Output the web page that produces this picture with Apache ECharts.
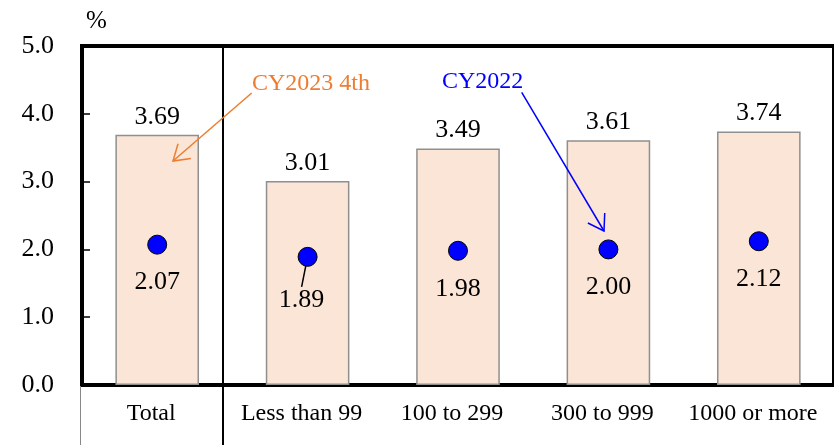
<!DOCTYPE html>
<html>
<head>
<meta charset="utf-8">
<script src="https://cdn.jsdelivr.net/npm/echarts@6/dist/echarts.min.js"></script>
<style>html,body{margin:0;padding:0;background:#fff}#c{width:834px;height:445px}</style>
</head>
<body>
<div id="c"></div>
<script>
// ---- data ----
const categories = ['Total', 'Less than 99', '100 to 299', '300 to 999', '1000 or more'];
const cy2023 = [3.69, 3.01, 3.49, 3.61, 3.74];
const cy2022 = [2.07, 1.89, 1.98, 2.00, 2.12];
const yTicks = [0, 1, 2, 3, 4, 5];
const seriesNames = ['CY2023 4th', 'CY2022'];

const FONT = '"Liberation Serif", "Times New Roman", serif';
const chart = echarts.init(document.getElementById('c'));

function arrow(x1, y1, x2, y2, color) {
  const ang = Math.atan2(y1 - y2, x1 - x2);
  const L = 18, a = 33 * Math.PI / 180;
  const p1 = [x2 + L * Math.cos(ang + a), y2 + L * Math.sin(ang + a)];
  const p2 = [x2 + L * Math.cos(ang - a), y2 + L * Math.sin(ang - a)];
  return [
    { type: 'line', shape: { x1, y1, x2, y2 }, style: { stroke: color, lineWidth: 1.5 }, z: 50 },
    { type: 'polyline', shape: { points: [p1, [x2, y2], p2] }, style: { stroke: color, lineWidth: 1.5, fill: null }, z: 50 }
  ];
}

// the one dot whose label is pulled aside with a short leader line
const movedLabelIndex = 1;
const dotData = cy2022.map((v, i) => ({ value: v, labelLine: { show: i === movedLabelIndex } }));

const option = {
  animation: false,
  backgroundColor: '#fff',
  grid: { left: 82, right: -3, top: 46, bottom: 60, show: true, borderColor: '#000', borderWidth: 4, containLabel: false },
  xAxis: {
    type: 'category',
    data: categories,
    axisLine: { show: true, lineStyle: { color: '#000', width: 4 } },
    axisTick: { show: false },
    axisLabel: { interval: 0, color: '#000', fontFamily: FONT, fontSize: 24, margin: 17, padding: [0, 12, 0, 0] },
    splitLine: { show: false }
  },
  yAxis: {
    type: 'value',
    min: yTicks[0], max: yTicks[yTicks.length - 1], interval: 1,
    name: '%',
    nameLocation: 'end',
    nameGap: 12,
    nameTextStyle: { color: '#000', fontFamily: FONT, fontSize: 25, align: 'left', padding: [0, 0, 0, 4] },
    axisLine: { show: true, lineStyle: { color: '#000', width: 4 } },
    axisTick: { show: true, inside: true, length: 8, lineStyle: { color: '#000', width: 1.5 } },
    axisLabel: { color: '#000', fontFamily: FONT, fontSize: 26, margin: 28, formatter: v => v.toFixed(1) },
    splitLine: { show: false }
  },
  series: [
    {
      name: seriesNames[0],
      type: 'bar',
      data: cy2023,
      barWidth: '55.6%',
      itemStyle: { color: '#FBE5D6', borderColor: '#8f8f8f', borderWidth: 1.5 },
      label: { show: true, position: 'top', distance: 5, color: '#000', fontFamily: FONT, fontSize: 26, formatter: p => p.value.toFixed(2) },
      z: 2
    },
    {
      name: seriesNames[1],
      type: 'scatter',
      data: dotData,
      symbol: 'circle',
      symbolSize: 19,
      itemStyle: { color: '#0000FF', borderColor: '#000', borderWidth: 1, opacity: 1 },
      label: { show: true, position: 'bottom', distance: 15, color: '#000', fontFamily: FONT, fontSize: 26, formatter: p => p.value.toFixed(2) },
      labelLayout: function (params) {
        if (params.dataIndex === movedLabelIndex) return { dx: -6, dy: 5 };
        return {};
      },
      labelLine: { show: false, lineStyle: { color: '#000', width: 1.5 } },
      z: 5
    }
  ],
  graphic: [
    { type: 'line', shape: { x1: 223, y1: 44, x2: 223, y2: 445 }, style: { stroke: '#000', lineWidth: 2 }, z: 40 },
    { type: 'line', shape: { x1: 80.5, y1: 386, x2: 80.5, y2: 445 }, style: { stroke: '#888', lineWidth: 1 }, z: 40 },
    { type: 'text', left: 252, top: 72, style: { text: seriesNames[0], fill: '#ED7D31', font: '24px ' + FONT }, z: 50 },
    { type: 'text', left: 442, top: 70, style: { text: seriesNames[1], fill: '#0000FF', font: '24px ' + FONT }, z: 50 },
    ...arrow(251.7, 93, 173, 161, '#ED7D31'),
    ...arrow(521.7, 92.3, 604, 231, '#0000FF')
  ]
};
chart.setOption(option);
</script>
</body>
</html>
